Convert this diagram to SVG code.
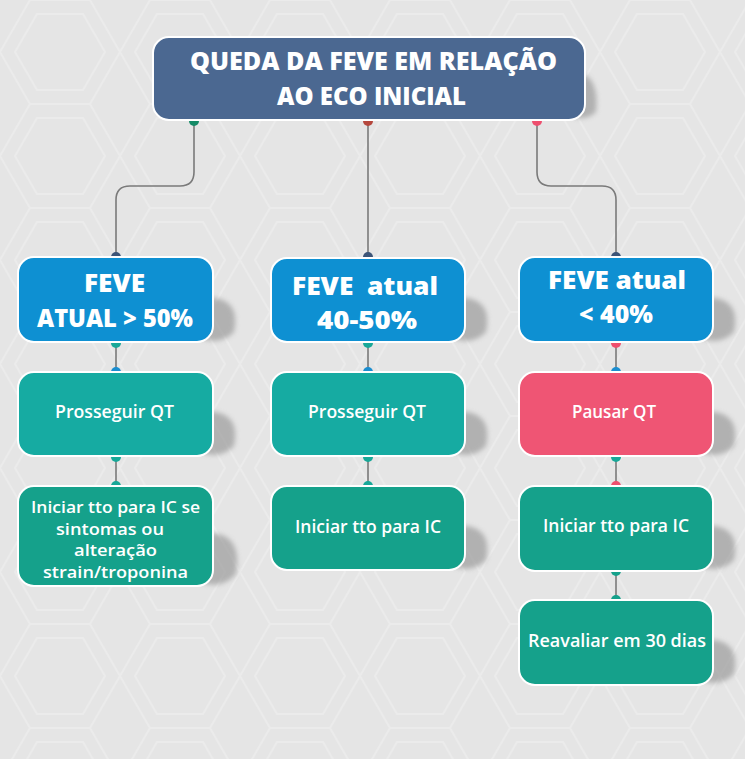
<svg xmlns="http://www.w3.org/2000/svg" width="745" height="759" viewBox="0 0 745 759">
<defs>
<pattern id="hex" width="120" height="104" patternUnits="userSpaceOnUse">
<path d="M0 52 L30 0 L90 0 L120 52 L90 104 L30 104 Z M15 52 L37 14 L83 14 L105 52 L83 90 L37 90 Z" fill="none" stroke="#ebebeb" stroke-width="2"/>
</pattern>
<filter id="blur" x="-50%" y="-50%" width="200%" height="200%"><feGaussianBlur stdDeviation="2.5"/></filter>
<style>
.bg{fill:#e5e5e5}
.node{stroke:#ffffff;stroke-width:2}
.title{fill:#4b6891}
.blue{fill:#0e90d2}
.teal{fill:#16aba2}
.green{fill:#15a18b}
.pink{fill:#ef5574}
.shadow{fill:#8f8f8f;opacity:0.6;filter:url(#blur)}
.hd{font-family:"Open Sans","Lato",sans-serif;font-weight:800;fill:#ffffff;text-anchor:middle;font-size:24px}
.tx{font-family:"Open Sans","Lato",sans-serif;font-weight:600;fill:#ffffff;text-anchor:middle;font-size:17.5px}
.sm{font-size:16px}
.ln{fill:none;stroke:#7a7a7a;stroke-width:1.6}
</style>
</defs>
<rect class="bg" x="0" y="0" width="745" height="759"/>
<rect x="0" y="0" width="745" height="759" fill="url(#hex)"/>

<g id="connectors">
<path class="ln" d="M194 120 V172 Q194 186 180 186 H130 Q116 186 116 200 V257"/>
<path class="ln" d="M368 120 V257"/>
<path class="ln" d="M537 120 V172 Q537 186 551 186 H602 Q616 186 616 200 V257"/>
<path class="ln" d="M116 342 V372 M116 456 V486"/>
<path class="ln" d="M368 342 V372 M368 456 V486"/>
<path class="ln" d="M616 342 V372 M616 456 V486 M616 571 V600"/>
<circle cx="194" cy="121" r="5" fill="#148a66"/>
<circle cx="368" cy="121" r="5" fill="#b5473d"/>
<circle cx="537" cy="121" r="5" fill="#ee4f6e"/>
<circle cx="116" cy="257" r="5" fill="#3d5578"/>
<circle cx="368" cy="257" r="5" fill="#3d5578"/>
<circle cx="616" cy="257" r="5" fill="#3d5578"/>
<circle cx="116" cy="343" r="5" fill="#18a898"/>
<circle cx="368" cy="343" r="5" fill="#18a898"/>
<circle cx="616" cy="343" r="5" fill="#ee4f6e"/>
<circle cx="116" cy="372" r="5" fill="#1b8ed0"/>
<circle cx="368" cy="372" r="5" fill="#1b8ed0"/>
<circle cx="616" cy="372" r="5" fill="#1b8ed0"/>
<circle cx="116" cy="457" r="5" fill="#18a898"/>
<circle cx="368" cy="457" r="5" fill="#18a898"/>
<circle cx="616" cy="457" r="5" fill="#18a898"/>
<circle cx="116" cy="486" r="5" fill="#18a898"/>
<circle cx="368" cy="486" r="5" fill="#18a898"/>
<circle cx="616" cy="486" r="5" fill="#ee4f6e"/>
<circle cx="616" cy="571" r="5" fill="#15a18b"/>
<circle cx="616" cy="600" r="5" fill="#15a18b"/>
</g>

<g id="n-title">
<path class="shadow" d="M570 72 Q600 70 596 112 Q585 122 570 116 Z"/>
<rect class="node title" x="153" y="37" width="432" height="83" rx="16"/>
<text class="hd" x="373.5" y="70" textLength="367" lengthAdjust="spacingAndGlyphs">QUEDA DA FEVE EM RELAÇÃO</text>
<text class="hd" x="371.5" y="105" textLength="189" lengthAdjust="spacingAndGlyphs">AO ECO INICIAL</text>
</g>

<g id="n-a1">
<path class="shadow" d="M200 298 Q242 294 234 332 Q220 346 200 338 Z"/>
<rect class="node blue" x="18" y="257" width="195" height="85" rx="16"/>
<text class="hd" x="114.5" y="292" textLength="61" lengthAdjust="spacingAndGlyphs">FEVE</text>
<text class="hd" x="115" y="327" textLength="156" lengthAdjust="spacingAndGlyphs">ATUAL &gt; 50%</text>
</g>
<g id="n-b1">
<path class="shadow" d="M452 298 Q494 294 486 332 Q472 346 452 338 Z"/>
<rect class="node blue" x="271" y="258" width="194" height="84" rx="16"/>
<text class="hd" x="365" y="295" textLength="146" lengthAdjust="spacingAndGlyphs" xml:space="preserve">FEVE  atual</text>
<text class="hd" x="367" y="329" textLength="100" lengthAdjust="spacingAndGlyphs">40-50%</text>
</g>
<g id="n-c1">
<path class="shadow" d="M700 298 Q742 294 734 332 Q720 346 700 338 Z"/>
<rect class="node blue" x="519" y="257" width="194" height="85" rx="16"/>
<text class="hd" x="617" y="289" textLength="138" lengthAdjust="spacingAndGlyphs">FEVE atual</text>
<text class="hd" x="616" y="323" textLength="74" lengthAdjust="spacingAndGlyphs">&lt; 40%</text>
</g>

<g id="n-a2">
<path class="shadow" d="M200 412 Q242 408 234 446 Q220 460 200 452 Z"/>
<rect class="node teal" x="18" y="372" width="195" height="84" rx="16"/>
<text class="tx" x="114.5" y="418" textLength="119" lengthAdjust="spacingAndGlyphs">Prosseguir QT</text>
</g>
<g id="n-b2">
<path class="shadow" d="M452 412 Q494 408 486 446 Q472 460 452 452 Z"/>
<rect class="node teal" x="271" y="372" width="194" height="84" rx="16"/>
<text class="tx" x="367" y="418" textLength="118" lengthAdjust="spacingAndGlyphs">Prosseguir QT</text>
</g>
<g id="n-c2">
<path class="shadow" d="M700 412 Q742 408 734 446 Q720 460 700 452 Z"/>
<rect class="node pink" x="519" y="372" width="194" height="84" rx="16"/>
<text class="tx" x="614" y="418" textLength="84" lengthAdjust="spacingAndGlyphs">Pausar QT</text>
</g>

<g id="n-a3">
<path class="shadow" d="M200 534 Q244 528 236 574 Q222 590 200 582 Z"/>
<rect class="node green" x="18" y="486" width="195" height="100" rx="16"/>
<text class="tx sm" x="115.5" y="513" textLength="169" lengthAdjust="spacingAndGlyphs">Iniciar tto para IC se</text>
<text class="tx sm" x="110" y="535" textLength="108" lengthAdjust="spacingAndGlyphs">sintomas ou</text>
<text class="tx sm" x="115.5" y="556" textLength="83" lengthAdjust="spacingAndGlyphs">alteração</text>
<text class="tx sm" x="115.5" y="578" textLength="145" lengthAdjust="spacingAndGlyphs">strain/troponina</text>
</g>
<g id="n-b3">
<path class="shadow" d="M452 526 Q494 522 486 560 Q472 574 452 566 Z"/>
<rect class="node green" x="271" y="486" width="194" height="84" rx="16"/>
<text class="tx" x="368" y="533" textLength="146" lengthAdjust="spacingAndGlyphs">Iniciar tto para IC</text>
</g>
<g id="n-c3">
<path class="shadow" d="M700 526 Q742 522 734 560 Q720 574 700 566 Z"/>
<rect class="node green" x="519" y="486" width="194" height="85" rx="16"/>
<text class="tx" x="616" y="532" textLength="146" lengthAdjust="spacingAndGlyphs">Iniciar tto para IC</text>
</g>
<g id="n-c4">
<path class="shadow" d="M700 640 Q742 636 734 674 Q720 688 700 680 Z"/>
<rect class="node green" x="519" y="600" width="194" height="85" rx="16"/>
<text class="tx" x="617" y="647" textLength="178" lengthAdjust="spacingAndGlyphs">Reavaliar em 30 dias</text>
</g>
</svg>
